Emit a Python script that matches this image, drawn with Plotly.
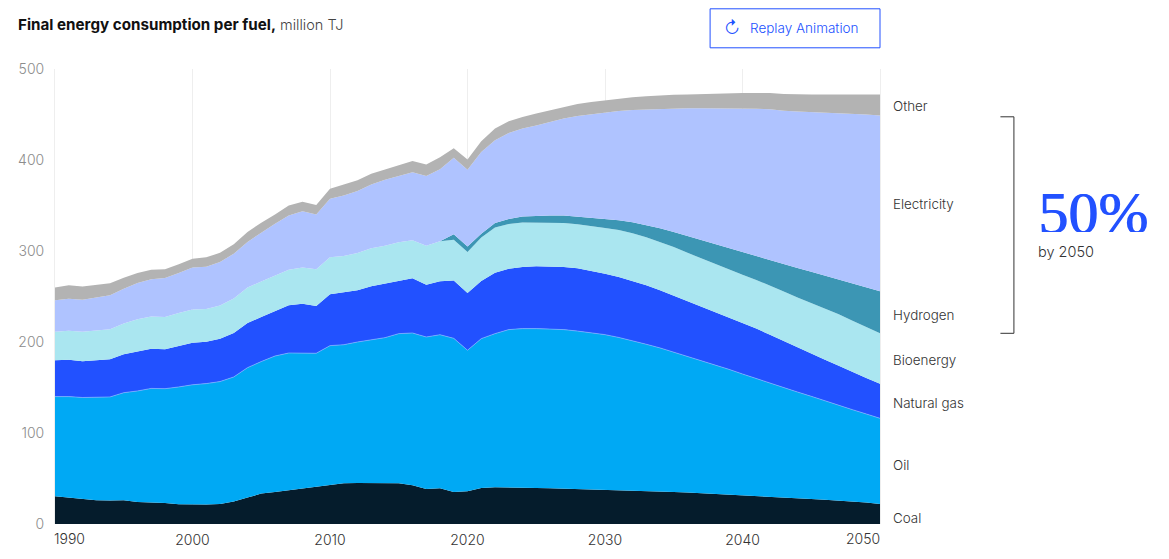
import plotly.graph_objects as go

years = list(range(1990, 2051))

# cumulative top edge of every band, million TJ
coal_top = [
    30.4, 29, 26.8, 26, 25.7, 26, 24.2, 23.8, 23, 21.7,
    21.3, 21.3, 22, 24.6, 29, 33.4, 35.2, 37, 38.8, 40.7,
    42.9, 44.7, 45.1, 45.2, 45.4, 44.7, 42.5, 38.5, 39.2, 35.2,
    35.9, 39.6, 40.4, 40.4, 40, 39.6, 39.3, 38.9, 38.5, 38.2,
    37.8, 37.4, 36.7, 36.3, 36, 35.2, 34.5, 33.8, 33, 32.2,
    31.5, 30.7, 30, 29.2, 28.3, 27.5, 26.6, 25.7, 24.7, 23.6,
    22,
]
oil_top = [
    140, 140, 139, 139, 139.6, 144.3, 146.2, 149, 148.7, 150.6,
    153, 154.3, 156.5, 161.6, 171.8, 178.5, 184.6, 187.9, 187.9, 187.6,
    196, 197, 200, 202.6, 204.8, 209.2, 209.9, 205.5, 208, 204,
    190.9, 203.7, 209.2, 213.6, 214.7, 214.7, 214.3, 213.6, 212, 210.3,
    208.1, 205, 201.5, 197.5, 193.5, 188.8, 184.6, 179.5, 174.7, 170,
    164.8, 159.7, 155, 149.8, 145, 140.3, 135.2, 130.4, 125.6, 120.9,
    116.1,
]
gas_top = [
    179.9, 180.6, 178.8, 179.9, 181, 186.5, 190, 192.7, 192, 195.6,
    199.3, 200.4, 203.7, 209.9, 220.9, 227.5, 234, 240.3, 242, 239.6,
    252.4, 254.3, 256.8, 261.2, 264.1, 267.5, 270, 263, 266.7, 267.5,
    253.9, 267, 276.2, 280.6, 282.4, 283.2, 283.2, 282.4, 281, 278.4,
    275, 271.4, 267, 262.3, 257, 251, 245, 238.8, 233, 226.9,
    220.9, 214.7, 208, 201, 194, 187.2, 180.4, 174, 167, 160.4,
    154.2,
]
bio_top = [
    211.4, 212.5, 211.4, 212.5, 214, 220.2, 225, 227.9, 227.5, 232,
    235.6, 236.3, 240, 247.7, 259.8, 266.5, 273.3, 279.5, 282, 279.9,
    293, 294.5, 297.8, 303, 305.9, 309.6, 311.7, 305.9, 310.7, 312.5,
    299, 314.7, 325.7, 329.7, 331.2, 331.2, 331.2, 330.8, 329.3, 327.5,
    325.3, 323, 319.5, 315, 310, 304.5, 298, 291.8, 285.6, 279.7,
    274, 268.2, 262.2, 255.6, 249, 242.9, 236.6, 230.4, 223.4, 216.5,
    209.5,
]
hydrogen_top = [
    211.4, 212.5, 211.4, 212.5, 214, 220.2, 225, 227.9, 227.5, 232,
    235.6, 236.3, 240, 247.7, 259.8, 266.5, 273.3, 279.5, 282, 279.9,
    293, 294.5, 297.8, 303, 305.9, 309.6, 311.7, 305.9, 310.7, 318.4,
    305, 319, 330.8, 335.2, 337.8, 338.5, 338.9, 338.9, 337.8, 336.7,
    335.2, 333.7, 331.5, 328.5, 325, 320.9, 316.5, 311.7, 307, 302.6,
    298.2, 293.8, 289.8, 285.8, 281.3, 277.3, 272.9, 268.9, 264.5, 260.1,
    255.7,
]
electricity_top = [
    245.8, 247.6, 246.5, 248.7, 251.3, 258.6, 264.8, 268.9, 270.3, 275.8,
    282, 282.8, 288, 297, 310, 320, 330, 339, 343.6, 340,
    357.5, 361, 366, 373, 378.4, 382.5, 386.5, 382.5, 389.8, 402.6,
    389.4, 408.8, 421.6, 429.7, 434.5, 438, 441.8, 445.5, 448.4, 450.3,
    452, 453.8, 455, 455.7, 456.4, 456.8, 457, 457, 457, 456.7,
    456.4, 456.2, 455.7, 454, 453.3, 452.8, 452.3, 451.7, 451, 450,
    449,
]
other_top = [
    259.8, 262.3, 261, 263, 264.5, 270.7, 275.8, 279.5, 280, 285.4,
    291.6, 293, 298, 307.3, 321, 331, 340, 350, 354, 350.6,
    368.5, 373, 377.7, 385, 389.8, 394.5, 399, 395, 403, 413,
    400.6, 420.5, 434.5, 442.5, 447.3, 451, 454.6, 458, 461.5, 463.7,
    465.6, 467.5, 469, 470, 471, 471.8, 472, 472.5, 473, 473,
    473.5, 473.5, 473.5, 472.5, 472, 472, 472, 472, 472, 472,
    472,
]

fuel_names = ["Coal", "Oil", "Natural gas", "Bioenergy", "Hydrogen", "Electricity", "Other"]
fuel_tops = [coal_top, oil_top, gas_top, bio_top, hydrogen_top, electricity_top, other_top]
fuel_colors = ["#051c2c", "#00a9f4", "#2251ff", "#aae6f0", "#3c96b4", "#afc3ff", "#b3b3b3"]

x_ticks = [2000, 2010, 2020, 2030, 2040]
y_ticks = [0, 100, 200, 300, 400, 500]

FONT = "Inter"
WIDTH, HEIGHT = 1169, 559
LEFT, RIGHT, TOP, BOTTOM = 55, 880.5, 68.7, 523.7


# reference is laid out in page pixels, so convert them to paper coordinates
def px(x):
    return (x - LEFT) / (RIGHT - LEFT)


def py(y):
    return (BOTTOM - y) / (BOTTOM - TOP)


def label(text, x, y, size=13.4, color="#333333", anchor="left", weight=300, **kw):
    return dict(text=text, x=px(x), y=py(y), xref="paper", yref="paper", showarrow=False,
                xanchor=anchor, yanchor="middle",
                font=dict(family=FONT, size=size, color=color, weight=weight), **kw)


fig = go.Figure()

for i, name in enumerate(fuel_names):
    fig.add_trace(go.Scatter(
        x=years,
        y=fuel_tops[i],
        name=name,
        mode="lines",
        line=dict(width=0.7, color="#7fb4ff") if name == "Oil" else dict(width=0, color=fuel_colors[i]),
        fill="tozeroy" if i == 0 else "tonexty",
        fillcolor=fuel_colors[i],
        hoverinfo="x+y+name",
    ))

annotations = [
    label("<b>Final energy consumption per fuel,</b>", 16, 24, size=15.2, color="#111111", weight=400),
    label("million TJ", 278.5, 24, size=14.5, color="#444444"),
    label("↻", 732, 28, size=17, color="#2251ff", anchor="center"),
    label("Replay Animation", 748, 28, size=13.5, color="#2251ff"),
    label("1990", 52, 538, size=14, anchor="left"),
    label("2050", 883, 538, size=14, anchor="right"),
    label("Other", 891.5, 106),
    label("Electricity", 891.5, 204),
    label("Hydrogen", 891.5, 315),
    label("Bioenergy", 891.5, 360),
    label("Natural gas", 891.5, 403),
    label("Oil", 891.5, 465),
    label("Coal", 891.5, 518),
    label("by 2050", 1037, 251, size=14.5),
]
# explicit box height clips the foot of the big number like the original
big = label("50%", 1036.5, 206, size=60, color="#2251ff", weight=400,
            width=115, height=52, valign="top", align="left")
big["font"]["family"] = "Liberation Serif"
big["font"]["shadow"] = "1px 0 0 #2251ff"
annotations.append(big)

shapes = [
    dict(type="rect", xref="paper", yref="paper", x0=px(710.5), x1=px(880.5), y0=py(8.5), y1=py(47.5),
         line=dict(color="#2251ff", width=1)),
    dict(type="path", xref="paper", yref="paper",
         path=f"M {px(1001)} {py(116.5)} L {px(1014.5)} {py(116.5)} L {px(1014.5)} {py(333)} L {px(1001)} {py(333)}",
         line=dict(color="#333333", width=1)),
]

fig.update_layout(
    width=WIDTH,
    height=HEIGHT,
    margin=dict(l=LEFT, r=WIDTH - RIGHT, t=TOP, b=HEIGHT - BOTTOM),
    paper_bgcolor="white",
    plot_bgcolor="white",
    showlegend=False,
    annotations=annotations,
    shapes=shapes,
    xaxis=dict(
        range=[1990, 2050],
        tickmode="array",
        tickvals=x_ticks,
        ticktext=[str(t) for t in x_ticks],
        tickfont=dict(family=FONT, size=14, color="#333333", weight=300),
        ticks="",
        ticklabelstandoff=6,
        showline=False,
        showgrid=True,
        gridcolor="#eeeeee",
        gridwidth=1,
        zeroline=False,
    ),
    yaxis=dict(
        range=[0, 500],
        tickmode="array",
        tickvals=y_ticks,
        tickfont=dict(family=FONT, size=14, color="#8c8c8c", weight=300),
        ticks="",
        ticklen=0,
        ticklabelstandoff=7,
        showgrid=False,
        zeroline=False,
        showline=True,
        linecolor="#eeeeee",
        linewidth=1,
        mirror=True,
    ),
)

fig.write_html("out.html", config={"displayModeBar": False},
               post_script="document.body.style.margin='0';")
